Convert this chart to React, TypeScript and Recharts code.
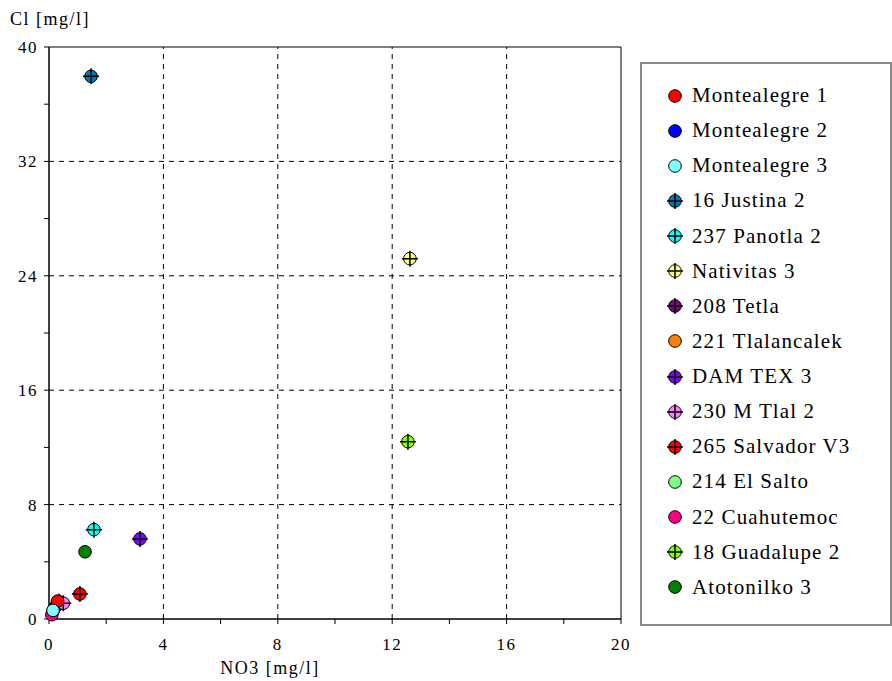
import { ReferenceArea, ReferenceLine, Scatter, ScatterChart, XAxis, YAxis } from "recharts";

const SITES = [
  "Montealegre 1",
  "Montealegre 2",
  "Montealegre 3",
  "16 Justina 2",
  "237 Panotla 2",
  "Nativitas 3",
  "208 Tetla",
  "221 Tlalancalek",
  "DAM TEX 3",
  "230 M Tlal 2",
  "265 Salvador V3",
  "214 El Salto",
  "22 Cuahutemoc",
  "18 Guadalupe 2",
  "Atotonilko 3",
];
const NO3 = [0.3, 0.25, 0.14, 1.47, 1.57, 12.62, 0.35, 0.2, 3.18, 0.5, 1.08, 0.15, 0.1, 12.55, 1.26];
const CL = [1.25, 0.9, 0.6, 37.95, 6.25, 25.2, 1.2, 0.8, 5.6, 1.1, 1.75, 0.6, 0.3, 12.4, 4.7];

const COLORS = [
  "#ff0000", "#0000ff", "#80ffff", "#0078b4", "#00ffff", "#ffff80", "#800080", "#ff8000",
  "#8000ff", "#ff80ff", "#ff0000", "#80ff80", "#ff0080", "#80ff00", "#008000",
];
const CROSS = [false, false, false, true, true, true, true, false, true, true, true, false, false, true, false];
// hidden ones first so the visible cluster sits on top like the reference
const DRAW_ORDER = [6, 7, 11, 1, 9, 0, 12, 2, 10, 14, 4, 8, 3, 5, 13];

const X_TICKS = [0, 2, 4, 6, 8, 10, 12, 14, 16, 18, 20];
const Y_TICKS = [0, 4, 8, 12, 16, 20, 24, 28, 32, 36, 40];
const X_GRID = [4, 8, 12, 16];
const Y_GRID = [8, 16, 24, 32];

const FONT = "'Liberation Serif', 'Times New Roman', serif";
const TICK = { fill: "#000", fontSize: 17, fontFamily: FONT, letterSpacing: 1.5 };

function Marker({ cx, cy, fill, cross }: { cx: number; cy: number; fill: string; cross: boolean }) {
  return (
    <g>
      <circle cx={cx} cy={cy} r={6.3} fill={fill} stroke="#000" strokeWidth={1} />
      {cross && (
        <path d={`M${cx - 8},${cy}H${cx + 8}M${cx},${cy - 8}V${cy + 8}`} stroke="#000" strokeWidth={1.5} />
      )}
    </g>
  );
}

function Legend() {
  return (
    <div
      style={{
        position: "absolute",
        left: 640,
        top: 62,
        width: 248,
        height: 546,
        border: "2px solid #8a8a8a",
        background: "#fff",
        paddingTop: 14,
        boxSizing: "content-box",
        fontFamily: FONT,
        fontSize: 21,
        letterSpacing: 1.1,
      }}
    >
      {SITES.map((name, i) => (
        <div key={name} style={{ height: 35.14, display: "flex", alignItems: "center" }}>
          <svg width={50} height={20} style={{ flex: "none" }}>
            <Marker cx={33} cy={10} fill={COLORS[i]} cross={CROSS[i]} />
          </svg>
          <span style={{ whiteSpace: "nowrap", color: "#000" }}>{name}</span>
        </div>
      ))}
    </div>
  );
}

export default function App() {
  return (
    <div style={{ position: "fixed", left: 0, top: 0, width: 892, height: 681, background: "#fff" }}>
      <ScatterChart width={892} height={681} margin={{ top: 47, right: 271, bottom: 0, left: 0 }}>
        <XAxis
          type="number"
          dataKey="x"
          domain={[0, 20]}
          ticks={X_TICKS}
          interval={0}
          tickFormatter={(v: number) => (v % 4 === 0 ? String(v) : "")}
          tick={TICK}
          tickSize={5}
          tickMargin={14}
          height={62}
          axisLine={{ stroke: "#000" }}
          tickLine={{ stroke: "#000" }}
          label={{
            content: ({ viewBox }: any) => (
              <text
                x={270}
                y={viewBox.y + 55}
                textAnchor="middle"
                fontFamily={FONT}
                fontSize={18}
                letterSpacing={1.5}
                fill="#000"
              >
                NO3 [mg/l]
              </text>
            ),
          }}
        />
        <YAxis
          type="number"
          dataKey="y"
          domain={[0, 40]}
          ticks={Y_TICKS}
          interval={0}
          tickFormatter={(v: number) => (v % 8 === 0 ? String(v) : "")}
          tick={TICK}
          tickSize={5}
          tickMargin={6}
          width={49}
          axisLine={{ stroke: "#000" }}
          tickLine={{ stroke: "#000" }}
          label={{
            content: ({ viewBox }: any) => (
              <text x={10} y={viewBox.y - 22} fontFamily={FONT} fontSize={18} letterSpacing={1.5} fill="#000">
                Cl [mg/l]
              </text>
            ),
          }}
        />
        <ReferenceArea x1={0} x2={20} y1={0} y2={40} fill="none" stroke="#000" strokeWidth={1} ifOverflow="visible" />
        {X_GRID.map((v) => (
          <ReferenceLine key={`x${v}`} x={v} stroke="#000" strokeDasharray="5 5" />
        ))}
        {Y_GRID.map((v) => (
          <ReferenceLine key={`y${v}`} y={v} stroke="#000" strokeDasharray="5 5" />
        ))}
        {DRAW_ORDER.map((i) => (
          <Scatter
            key={SITES[i]}
            name={SITES[i]}
            data={[{ x: NO3[i], y: CL[i] }]}
            fill={COLORS[i]}
            isAnimationActive={false}
            shape={(p: any) => <Marker cx={p.cx} cy={p.cy} fill={COLORS[i]} cross={CROSS[i]} />}
          />
        ))}
      </ScatterChart>
      <Legend />
    </div>
  );
}
